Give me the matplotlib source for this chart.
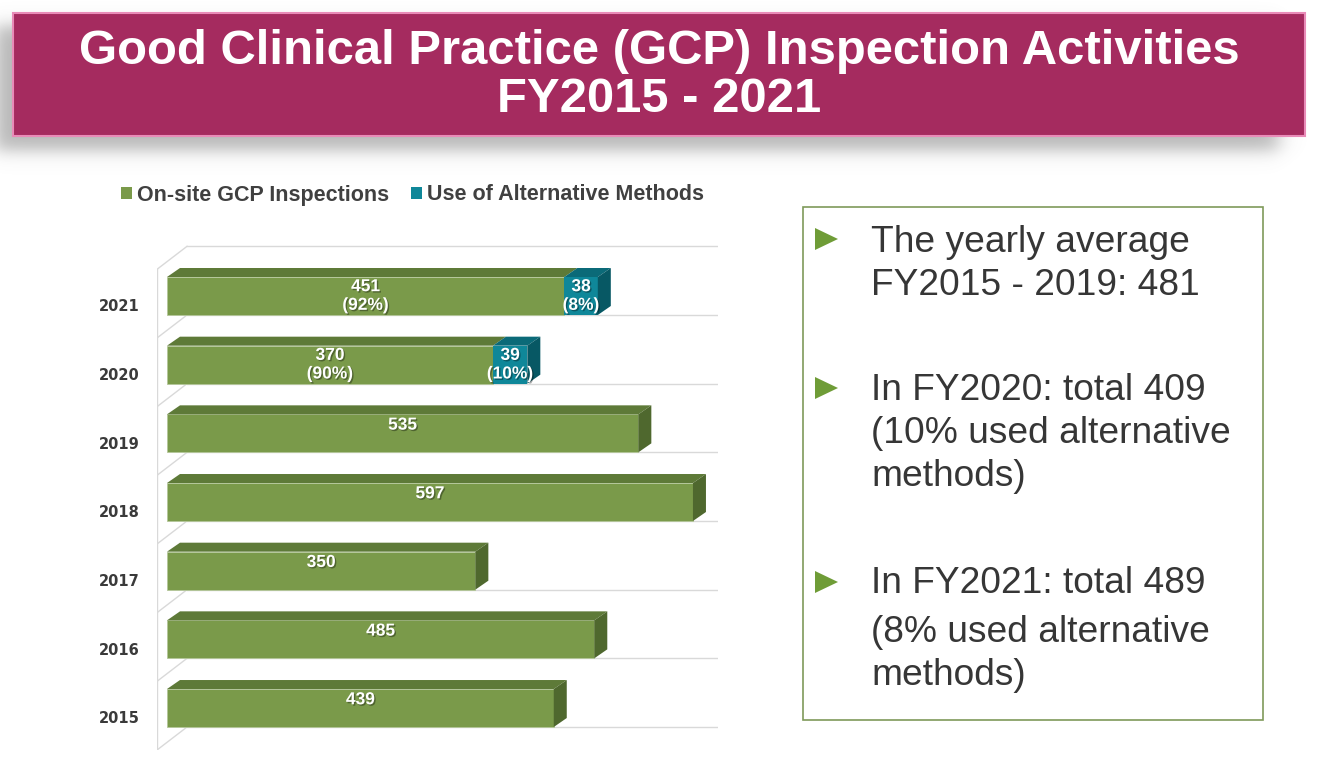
import numpy as np
import matplotlib.pyplot as plt
from matplotlib.patches import Rectangle, Polygon, Patch
import matplotlib.patheffects as pe

# data
years = ['2015', '2016', '2017', '2018', '2019', '2020', '2021']
onsite = [439, 485, 350, 597, 535, 370, 451]
alternative = [0, 0, 0, 0, 0, 39, 38]

title_lines = ['Good Clinical Practice (GCP) Inspection Activities', 'FY2015 - 2021']
series_names = ['On-site GCP Inspections', 'Use of Alternative Methods']
notes = [
    ['The yearly average', 'FY2015 - 2019: 481'],
    ['In FY2020: total 409', '(10% used alternative', 'methods)'],
    ['In FY2021: total 489', '(8% used alternative', 'methods)'],
]

# colours
GREEN, GREEN_TOP, GREEN_SIDE = '#7A9A4A', '#5E7A38', '#4F682E'
TEAL, TEAL_TOP, TEAL_SIDE = '#0F8799', '#0B6A78', '#075864'
TEXT = '#404040'
GRID = '#D9D9D9'

plt.rcParams['font.family'] = ['Liberation Sans', 'DejaVu Sans']

W, H = 1318, 766
fig = plt.figure(figsize=(W / 100, H / 100), dpi=100)

# ---- decoration layer in pixel coordinates ----
deco = fig.add_axes([0, 0, 1, 1], zorder=0)
deco.axis('off')

# soft drop shadow behind the title banner
sig = lambda t: 1 / (1 + np.exp(-t))
xs = np.arange(W)
ys = np.arange(200)
mx = sig((xs + 5) / 5) * sig((1278 - xs) / 6)
my = sig((ys - 25) / 5) * sig((150 - ys) / 5)
shadow = np.zeros((len(ys), W, 4))
shadow[..., :3] = 0.45
shadow[..., 3] = 0.5 * np.outer(my, mx)
deco.imshow(shadow, extent=(0, W, 200, 0), interpolation='bilinear', aspect='auto', zorder=1)
deco.set_xlim(0, W)
deco.set_ylim(H, 0)

# title banner
deco.add_patch(Rectangle((13, 13), 1292, 123, facecolor='#A52B5F', edgecolor='#E98BB8', lw=1.5, zorder=2))
deco.text(659, 64, title_lines[0], ha='center', va='baseline', fontsize=35.3,
          fontweight='bold', color='white', zorder=3)
deco.text(659, 112, title_lines[1], ha='center', va='baseline', fontsize=35.3,
          fontweight='bold', color='white', zorder=3)

# notes box on the right
deco.add_patch(Rectangle((803, 207), 460, 513, facecolor='white', edgecolor='#7F9A5A', lw=1.2, zorder=2))
baselines = [[252, 295], [400, 443, 486], [593, 642, 685]]
bullet_y = [239, 388, 582]
for block, ybs, yb in zip(notes, baselines, bullet_y):
    deco.add_patch(Polygon([(815, yb - 11), (815, yb + 11), (838, yb)], closed=True,
                           facecolor='#6F9C37', edgecolor='none', zorder=3))
    for line, y in zip(block, ybs):
        deco.text(871, y, line, ha='left', va='baseline', fontsize=26.7, color='#363636', zorder=3)

# ---- chart ----
PPU = 0.881        # pixels per inspection
BAND = 68.67       # pixels per year band
ax = fig.add_axes([157 / W, (H - 750) / H, (718 - 157) / W, (750 - 244) / H], zorder=2)
ax.patch.set_alpha(0)
xmin, xmax = (157 - 167) / PPU, (718 - 167) / PPU
ymin, ymax = 5.5 - (750 - 315) / BAND, 5.5 + (315 - 244) / BAND
ax.set_xlim(xmin, xmax)
ax.set_ylim(ymin, ymax)

pos = np.arange(len(years))
bottom = pos - 0.5
bh = 38 / BAND
dx = 13 / PPU
dy = 9 / BAND
xback = (187 - 167) / PPU
slant = 23 / BAND

# 3D walls / floor lines
for k in range(len(years) + 1):
    yk = k - 0.5
    ax.plot([xback, xmax], [yk, yk], color=GRID, lw=1, zorder=1)
    ax.plot([xmin, xback], [yk - slant, yk], color=GRID, lw=1, zorder=1)
ax.plot([xmin, xmin], [ymin, len(years) - 0.5 - slant], color=GRID, lw=1, zorder=1)

total = np.array(onsite) + np.array(alternative)
ax.barh(bottom, onsite, height=bh, align='edge', color=GREEN, edgecolor='#B4C79A', lw=0.6, zorder=3)
ax.barh(bottom, alternative, left=onsite, height=bh, align='edge', color=TEAL, lw=0, zorder=3)

for i in range(len(years)):
    b, t = bottom[i], bottom[i] + bh
    segs = [(0, onsite[i], GREEN_TOP)]
    if alternative[i] > 0:
        segs.append((onsite[i], total[i], TEAL_TOP))
    for x0, x1, c in segs:
        ax.add_patch(Polygon([(x0, t), (x0 + dx, t + dy), (x1 + dx, t + dy), (x1, t)],
                             closed=True, facecolor=c, edgecolor='none', zorder=3))
    side = TEAL_SIDE if alternative[i] > 0 else GREEN_SIDE
    ax.add_patch(Polygon([(total[i], b), (total[i] + dx, b + dy), (total[i] + dx, t + dy), (total[i], t)],
                         closed=True, facecolor=side, edgecolor='none', zorder=3))

# value labels
shade = [pe.withSimplePatchShadow(offset=(1, -1), shadow_rgbFace='black', alpha=0.35)]
lab = dict(ha='center', va='center', fontsize=12.5, fontweight='bold', color='white',
           zorder=5, linespacing=1.3, path_effects=shade)
for i in range(len(years)):
    yc = bottom[i] + bh / 2
    if alternative[i] > 0:
        p_on = round(100 * onsite[i] / total[i])
        p_alt = round(100 * alternative[i] / total[i])
        ax.text(onsite[i] / 2, yc, f'{onsite[i]}\n({p_on}%)', **lab)
        ax.text(onsite[i] + alternative[i] / 2, yc, f'{alternative[i]}\n({p_alt}%)', **lab)
    else:
        ax.text(onsite[i] / 2, yc + 0.12, f'{onsite[i]}', **lab)

ax.set_xticks([])
ax.set_yticks(pos - 0.36, years)
ax.tick_params(axis='y', length=0, pad=12.5, labelsize=10.5, labelcolor='#3A3A3A')
for lbl in ax.get_yticklabels():
    lbl.set_fontweight('bold')
    lbl.set_fontfamily('DejaVu Sans')
for s in ax.spines.values():
    s.set_visible(False)

# legend
fig.legend(handles=[Patch(facecolor=GREEN), Patch(facecolor=TEAL)], labels=series_names,
           loc='center left', bbox_to_anchor=(121 / W, 1 - 195 / H), ncol=2, frameon=False,
           prop=dict(weight='bold', size=15.5), labelcolor=TEXT, handlelength=0.5,
           handleheight=0.5, handletextpad=0.25, columnspacing=1.0, borderpad=0, borderaxespad=0)

fig.savefig('out.png', dpi=100)
